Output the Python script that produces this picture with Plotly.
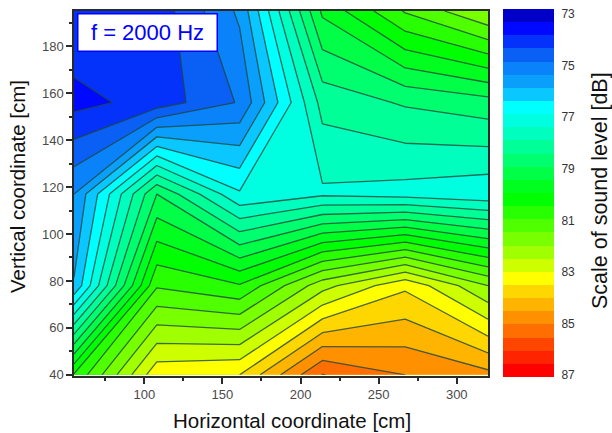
import plotly.graph_objects as go
import numpy as np

# Measurement grid
horizontal_cm = [55, 108, 161, 214, 267, 320]
vertical_cm = [40, 78, 117, 156, 195]
# Sound level [dB], one row per vertical coordinate, bottom to top
level_y40 = [80.55, 83.35, 83.5, 85.52, 85.0, 84.65]
level_y78 = [76.05, 80.94, 80.55, 82.3, 83.4, 82.0]
level_y117 = [75.5, 79.0, 77.07, 77.41, 77.3, 77.14]
level_y156 = [73.83, 74.2, 75.05, 78.18, 78.56, 78.8]
level_y195 = [74.45, 74.2, 75.6, 79.6, 81.05, 82.0]
sound_level = [level_y40, level_y78, level_y117, level_y156, level_y195]

band_colors = [
    "#0000c8", "#0008ff", "#0532fa", "#0a5ff5", "#0a82fa", "#0a9ffa", "#0ac8ff",
    "#00ffff", "#00ffe1", "#00ffbe", "#00ff96", "#00ff6e", "#00ff46", "#00ff1e",
    "#00ff00", "#28ff00", "#50ff00", "#78ff00", "#a0ff00", "#cdff00", "#ffff00",
    "#ffd700", "#ffb400", "#ff9100", "#ff6e00", "#ff4600", "#ff2300", "#ff0000",
]
cbar_ticks = [73, 75, 77, 79, 81, 83, 85, 87]
level_start, level_end, level_step = 73, 87, 0.5

n = len(band_colors)
scale = []
for i, c in enumerate(band_colors):
    scale += [[i / n, c], [(i + 1) / n, c]]

W, H = 612, 433
fig = go.Figure()
fig.add_trace(go.Contour(
    x=horizontal_cm, y=vertical_cm, z=sound_level,
    zmin=level_start, zmax=level_end, zauto=False, colorscale=scale, showscale=False,
    autocontour=False,
    contours=dict(start=level_start, end=level_end, size=level_step, coloring="fill"),
    line=dict(color="rgba(30,70,60,0.8)", width=1.3, smoothing=0),
    xaxis="x", yaxis="y", hoverinfo="skip",
))

# Colour key drawn as stacked bands, 73 at the top
cbar_top, cbar_bottom = 72.8, 87.08
edges = np.linspace(cbar_top, cbar_bottom, n + 1)
fig.add_trace(go.Heatmap(
    x=[0, 1], y=edges, z=[[i] for i in range(n)], zmin=0, zmax=n - 1,
    colorscale=[[i / (n - 1), band_colors[i]] for i in range(n)],
    showscale=False, xaxis="x2", yaxis="y2", hoverinfo="skip",
))

axis_col = "#2a2a2a"
tick_font = dict(family="Liberation Sans", size=13, color="#4a4a4a")
title_font = dict(family="Liberation Sans", size=20.5, color="#111111")
title_font_key = dict(family="Liberation Sans", size=21.5, color="#111111")


def title_note(text, px, py, angle, font):
    return dict(
        text=text, xref="paper", yref="paper", x=px / W, y=1 - py / H,
        xanchor="center", yanchor="middle", showarrow=False, textangle=angle, font=font,
    )


fig.update_layout(
    width=W, height=H, margin=dict(l=0, r=0, t=0, b=0, autoexpand=False),
    paper_bgcolor="white", plot_bgcolor="white", showlegend=False,
    xaxis=dict(
        domain=[74 / W, 488 / W], range=[55, 320], anchor="y", automargin=False,
        tick0=0, dtick=50, ticks="outside", ticklen=6, tickwidth=1.5, tickcolor=axis_col,
        minor=dict(dtick=25, ticks="outside", ticklen=3, tickwidth=1.5, tickcolor=axis_col),
        showgrid=False, zeroline=False, showline=True, linecolor=axis_col, linewidth=1.5, mirror=True,
        tickfont=tick_font,
    ),
    yaxis=dict(
        domain=[1 - 376 / H, 1 - 11 / H], range=[39.5, 195], anchor="x", automargin=False,
        tick0=0, dtick=20, ticks="outside", ticklen=6, tickwidth=1.5, tickcolor=axis_col,
        minor=dict(dtick=10, ticks="outside", ticklen=3, tickwidth=1.5, tickcolor=axis_col),
        showgrid=False, zeroline=False, showline=True, linecolor=axis_col, linewidth=1.5, mirror=True,
        tickfont=tick_font,
    ),
    xaxis2=dict(domain=[503 / W, 554 / W], range=[0, 1], anchor="y2", visible=False),
    yaxis2=dict(
        domain=[1 - 377 / H, 1 - 9 / H], range=[cbar_bottom, cbar_top], anchor="x2", side="right",
        automargin=False,
        tickvals=cbar_ticks, ticktext=[str(t) for t in cbar_ticks],
        ticks="outside", ticklen=4, tickcolor="rgba(0,0,0,0)",
        showgrid=False, zeroline=False, showline=False,
        tickfont=dict(family="Liberation Sans", size=12, color="#333333"),
    ),
    annotations=[
        dict(
            text="f = 2000 Hz", xref="paper", yref="paper",
            x=147.5 / W, y=1 - 32.5 / H, xanchor="center", yanchor="middle", showarrow=False,
            font=dict(family="Liberation Sans", size=22, color="#0000ff"),
            bgcolor="white", bordercolor="#0000ff", borderwidth=1.5,
            width=136, height=34,
        ),
        title_note("Horizontal coordinate [cm]", 292, 420, 0, title_font),
        title_note("Vertical coordinate [cm]", 17, 187, -90, title_font),
        title_note("Scale of sound level [dB]", 600, 191, -90, title_font_key),
    ],
)
fig.write_html("out.html", config=dict(displayModeBar=False), post_script="document.body.style.margin='0';")
